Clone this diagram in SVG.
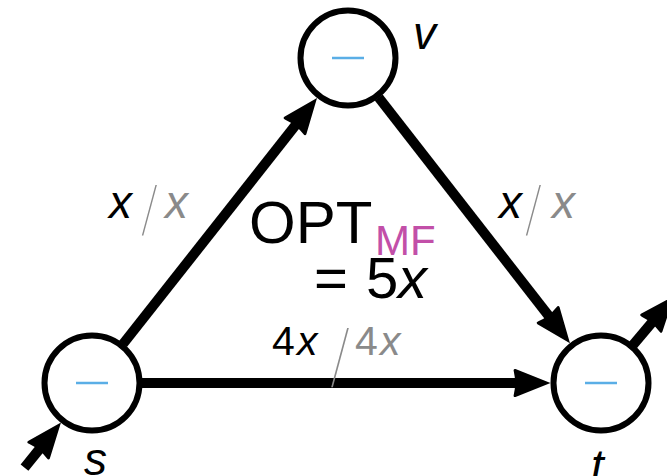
<svg xmlns="http://www.w3.org/2000/svg" width="667" height="476" viewBox="0 0 667 476">
<style>
.node circle{fill:#fff;stroke:#000;stroke-width:6}
.minus{stroke:#5aaee6;stroke-width:2.5}
.edge{stroke:#000;stroke-width:10;fill:none;marker-end:url(#ah)}
text{font-family:"Liberation Sans",Arial,sans-serif;fill:#000}
.it{font-style:italic}
.g{fill:#8a8a8a}
.sl{font-family:Inter,"Liberation Sans",sans-serif;font-weight:100;fill:#8a8a8a}
.pk{fill:#c24fa8}
</style>
<defs>
<marker id="ah" markerUnits="userSpaceOnUse" markerWidth="40" markerHeight="30" refX="10" refY="15" orient="auto" overflow="visible">
<path d="M37,15 L2,1 Q-0.5,0.5 0.3,3.5 Q3,15 0.3,26.5 Q-0.5,29.5 2,29 Z" fill="#000"/>
</marker>
</defs>
<g id="connectors">
<path class="edge" d="M123,344 L300.3,119.2"/>
<path class="edge" d="M378.7,97.5 L553.4,321.9"/>
<path class="edge" d="M142,383 L523.5,383"/>
<path class="edge" d="M24.5,467.6 L44,443.5"/>
<path class="edge" d="M633,345 L656.8,316.7"/>
</g>
<g id="node-s" class="node">
<circle cx="92" cy="383" r="47.5"/>
<line class="minus" x1="76" y1="383" x2="108" y2="383"/>
<text class="it" x="84" y="475" font-size="46">s</text>
</g>
<g id="node-v" class="node">
<circle cx="348" cy="58" r="47.5"/>
<line class="minus" x1="332" y1="58" x2="364" y2="58"/>
<text class="it" x="413" y="49" font-size="46">v</text>
</g>
<g id="node-t" class="node">
<circle cx="601" cy="383" r="47.5"/>
<line class="minus" x1="585" y1="383" x2="617" y2="383"/>
<text class="it" x="591" y="482" font-size="46">t</text>
</g>
<g id="labels">
<text font-size="46" y="218"><tspan class="it" x="109">x</tspan><tspan class="sl" x="140" y="229" font-size="58">/</tspan><tspan class="it g" x="165" y="218">x</tspan></text>
<text font-size="46" y="218"><tspan class="it" x="499">x</tspan><tspan class="sl" x="524" y="229" font-size="58">/</tspan><tspan class="it g" x="552" y="218">x</tspan></text>
<text font-size="41" y="355"><tspan x="272">4</tspan><tspan class="it" x="297">x</tspan><tspan class="sl" x="329" y="380" font-size="68">/</tspan><tspan class="g" x="355" y="355">4</tspan><tspan class="it g" x="380">x</tspan></text>
<text font-size="60" x="249" y="243">OPT<tspan class="pk" x="375" y="255" font-size="42">MF</tspan></text>
<text font-size="58" y="298"><tspan x="314">=</tspan><tspan x="366">5</tspan><tspan class="it" x="398">x</tspan></text>
</g>
</svg>
